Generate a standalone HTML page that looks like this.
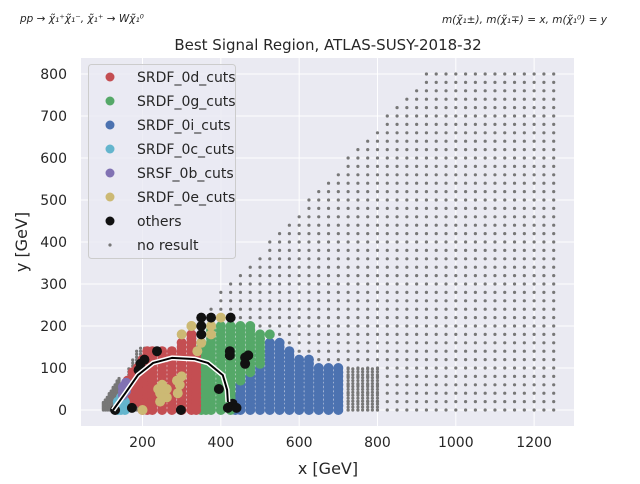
<!DOCTYPE html>
<html><head><meta charset="utf-8">
<style>
body{margin:0;background:#fff;width:640px;height:480px;overflow:hidden;font-family:"DejaVu Sans","Liberation Sans",sans-serif;}
svg text{font-family:"DejaVu Sans","Liberation Sans",sans-serif;}
</style></head>
<body>
<svg id="chart" width="640" height="480" viewBox="0 0 640 480" xmlns="http://www.w3.org/2000/svg">
<rect x="81" y="58" width="493" height="368" fill="#eaeaf2"/>
<g id="grid"></g>
<g id="marks"></g>
<g id="contour"></g>
<g id="ticks"></g>
<text x="20" y="22" font-size="10.5" font-style="italic" fill="#262626">pp → χ̃₁⁺χ̃₁⁻, χ̃₁⁺ → Wχ̃₁⁰</text>
<text x="607" y="23" font-size="10.5" font-style="italic" fill="#262626" text-anchor="end">m(χ̃₁±), m(χ̃₁∓) = x, m(χ̃₁⁰) = y</text>
<text x="328" y="50" font-size="15" fill="#262626" text-anchor="middle">Best Signal Region, ATLAS-SUSY-2018-32</text>
<text x="328" y="474" font-size="16" fill="#262626" text-anchor="middle">x [GeV]</text>
<text x="27" y="242" font-size="16" fill="#262626" text-anchor="middle" transform="rotate(-90 27 242)">y [GeV]</text>
<g id="legend"></g>
</svg>
<script>
const xTicks=[200,400,600,800,1000,1200];
const yTicks=[0,100,200,300,400,500,600,700,800];
// no-result grid: column x values and max y per column
const noResultX=[325,350,375,400,425,450,475,500,525,550,575,600,625,650,675,700,725,750,775,800,825,850,875,900,925,950,975,1000,1025,1050,1075,1100,1125,1150,1175,1200,1225,1250];
const noResultTop=[200,220,240,280,300,320,340,360,400,420,440,460,500,520,540,560,600,620,640,660,700,720,740,760,800,800,800,800,800,800,800,800,800,800,800,800,800,800];
// dense no-result columns (low masses): [x, yTop]
const noResultDense=[[100,20],[105,25],[110,30],[115,40],[120,45],[125,55],[130,60],[135,70],[140,75],[165,100],[175,120],[185,140],[195,150],[205,150],[215,150],[725,100],[737,100],[750,100],[762,100],[775,100],[787,100],[800,100]];
// colored columns: [x, yLow, yHigh]
const srdf0d=[[162,10,70],[175,20,90],[187,20,105],[200,0,120],[212,0,140],[225,0,140],[250,0,145],[275,0,145],[300,0,160],[325,0,180],[337,0,130]];
const srdf0g=[[350,0,160],[375,0,200],[400,0,200],[425,0,200],[450,70,200],[475,90,200],[500,110,180],[525,180,180],[362,0,150]];
const srdf0i=[[437,0,30],[450,0,60],[475,0,80],[500,0,140],[525,0,160],[550,0,160],[575,0,140],[600,0,120],[625,0,120],[650,0,100],[675,0,100],[700,0,100]];
const srdf0c=[[137,0,20],[145,0,30],[155,0,25]];
const srsf0b=[[150,35,55],[158,45,65]];
const srdf0eX=[200,245,245,250,240,262,262,290,295,300,288,300,325,375,375,400,350,340,325];
const srdf0eY=[0,20,40,60,50,30,50,40,60,80,70,180,200,200,180,220,160,140,200];
const othersX=[350,375,425,350,350,130,173,298,395,418,430,440,423,423,462,470,462,237,195,205,190];
const othersY=[220,220,220,200,180,0,5,0,50,5,15,5,140,130,125,130,110,140,110,120,95];
const contourX=[125,156,188,227,275,334,367,405,416,418];
const contourY=[0,40,83,112,124,121,112,83,48,19];
const NS='http://www.w3.org/2000/svg';
const sx=x=>64.2+0.3916*x, sy=y=>410-0.42*y;
const gG=document.getElementById('grid'),gM=document.getElementById('marks'),gT=document.getElementById('ticks'),gC=document.getElementById('contour'),gL=document.getElementById('legend');
function el(t,a,p){const e=document.createElementNS(NS,t);for(const k in a)e.setAttribute(k,a[k]);p.appendChild(e);return e;}
xTicks.forEach(v=>{const l=el('line',{x1:sx(v),x2:sx(v),y1:58,y2:426,stroke:'#fff','stroke-width':1},gG);


const t=el('text',{x:sx(v),y:447,'font-size':14,'text-anchor':'middle',fill:'#262626'},gT);t.textContent=v;

});
yTicks.forEach(v=>{const l=el('line',{x1:81,x2:574,y1:sy(v),y2:sy(v),stroke:'#fff','stroke-width':1},gG);


const t=el('text',{x:67,y:sy(v)+5,'font-size':14,'text-anchor':'end',fill:'#262626'},gT);t.textContent=v;

});
function dot(x,y,r,c,name){const d=el('circle',{cx:sx(x),cy:sy(y),r:r,fill:c},gM);

}
noResultX.forEach((x,i)=>{for(let y=0;y<=noResultTop[i];y+=20)dot(x,y,1.6,'#777','no-result-point');});
noResultDense.forEach(c=>{for(let y=0;y<=c[1];y+=(c[0]<160?3:7))dot(c[0],y,1.6,'#777','no-result-point');});
function cols(arr,c,name){arr.forEach(a=>{for(let y=a[1];y<=a[2];y+=10)dot(a[0],y,5,c,name);});}
cols(srdf0i,'#4c72b0','srdf-0i-point');
cols(srdf0g,'#55a868','srdf-0g-point');
cols(srdf0d,'#c44e52','srdf-0d-point');
cols(srdf0c,'#64b5cd','srdf-0c-point');
cols(srsf0b,'#8172b3','srsf-0b-point');
srdf0eX.forEach((x,i)=>dot(x,srdf0eY[i],5,'#ccb974','srdf-0e-point'));
othersX.forEach((x,i)=>dot(x,othersY[i],5,'#111','others-point'));
const pts=contourX.map((x,i)=>sx(x)+','+sy(contourY[i])).join(' ');
const c1=el('polyline',{points:pts,fill:'none',stroke:'#fff','stroke-width':5,'stroke-linejoin':'round'},gC);


const c2=el('polyline',{points:pts,fill:'none',stroke:'#000','stroke-width':2,'stroke-linejoin':'round'},gC);


const legNames=['SRDF_0d_cuts','SRDF_0g_cuts','SRDF_0i_cuts','SRDF_0c_cuts','SRSF_0b_cuts','SRDF_0e_cuts','others','no result'];
const legColors=['#c44e52','#55a868','#4c72b0','#64b5cd','#8172b3','#ccb974','#111','#777'];
const lb=el('rect',{x:88.5,y:64.5,width:147,height:194,rx:3,fill:'#eaeaf2','fill-opacity':0.8,stroke:'#ccc'},gL);


legNames.forEach((n,i)=>{const y=77+i*24;
const m=el('circle',{cx:110,cy:y,r:i==7?1.6:4.5,fill:legColors[i]},gL);


const t=el('text',{x:137,y:y+5,'font-size':14,fill:'#262626'},gL);t.textContent=n;

});
</script>
</body></html>
